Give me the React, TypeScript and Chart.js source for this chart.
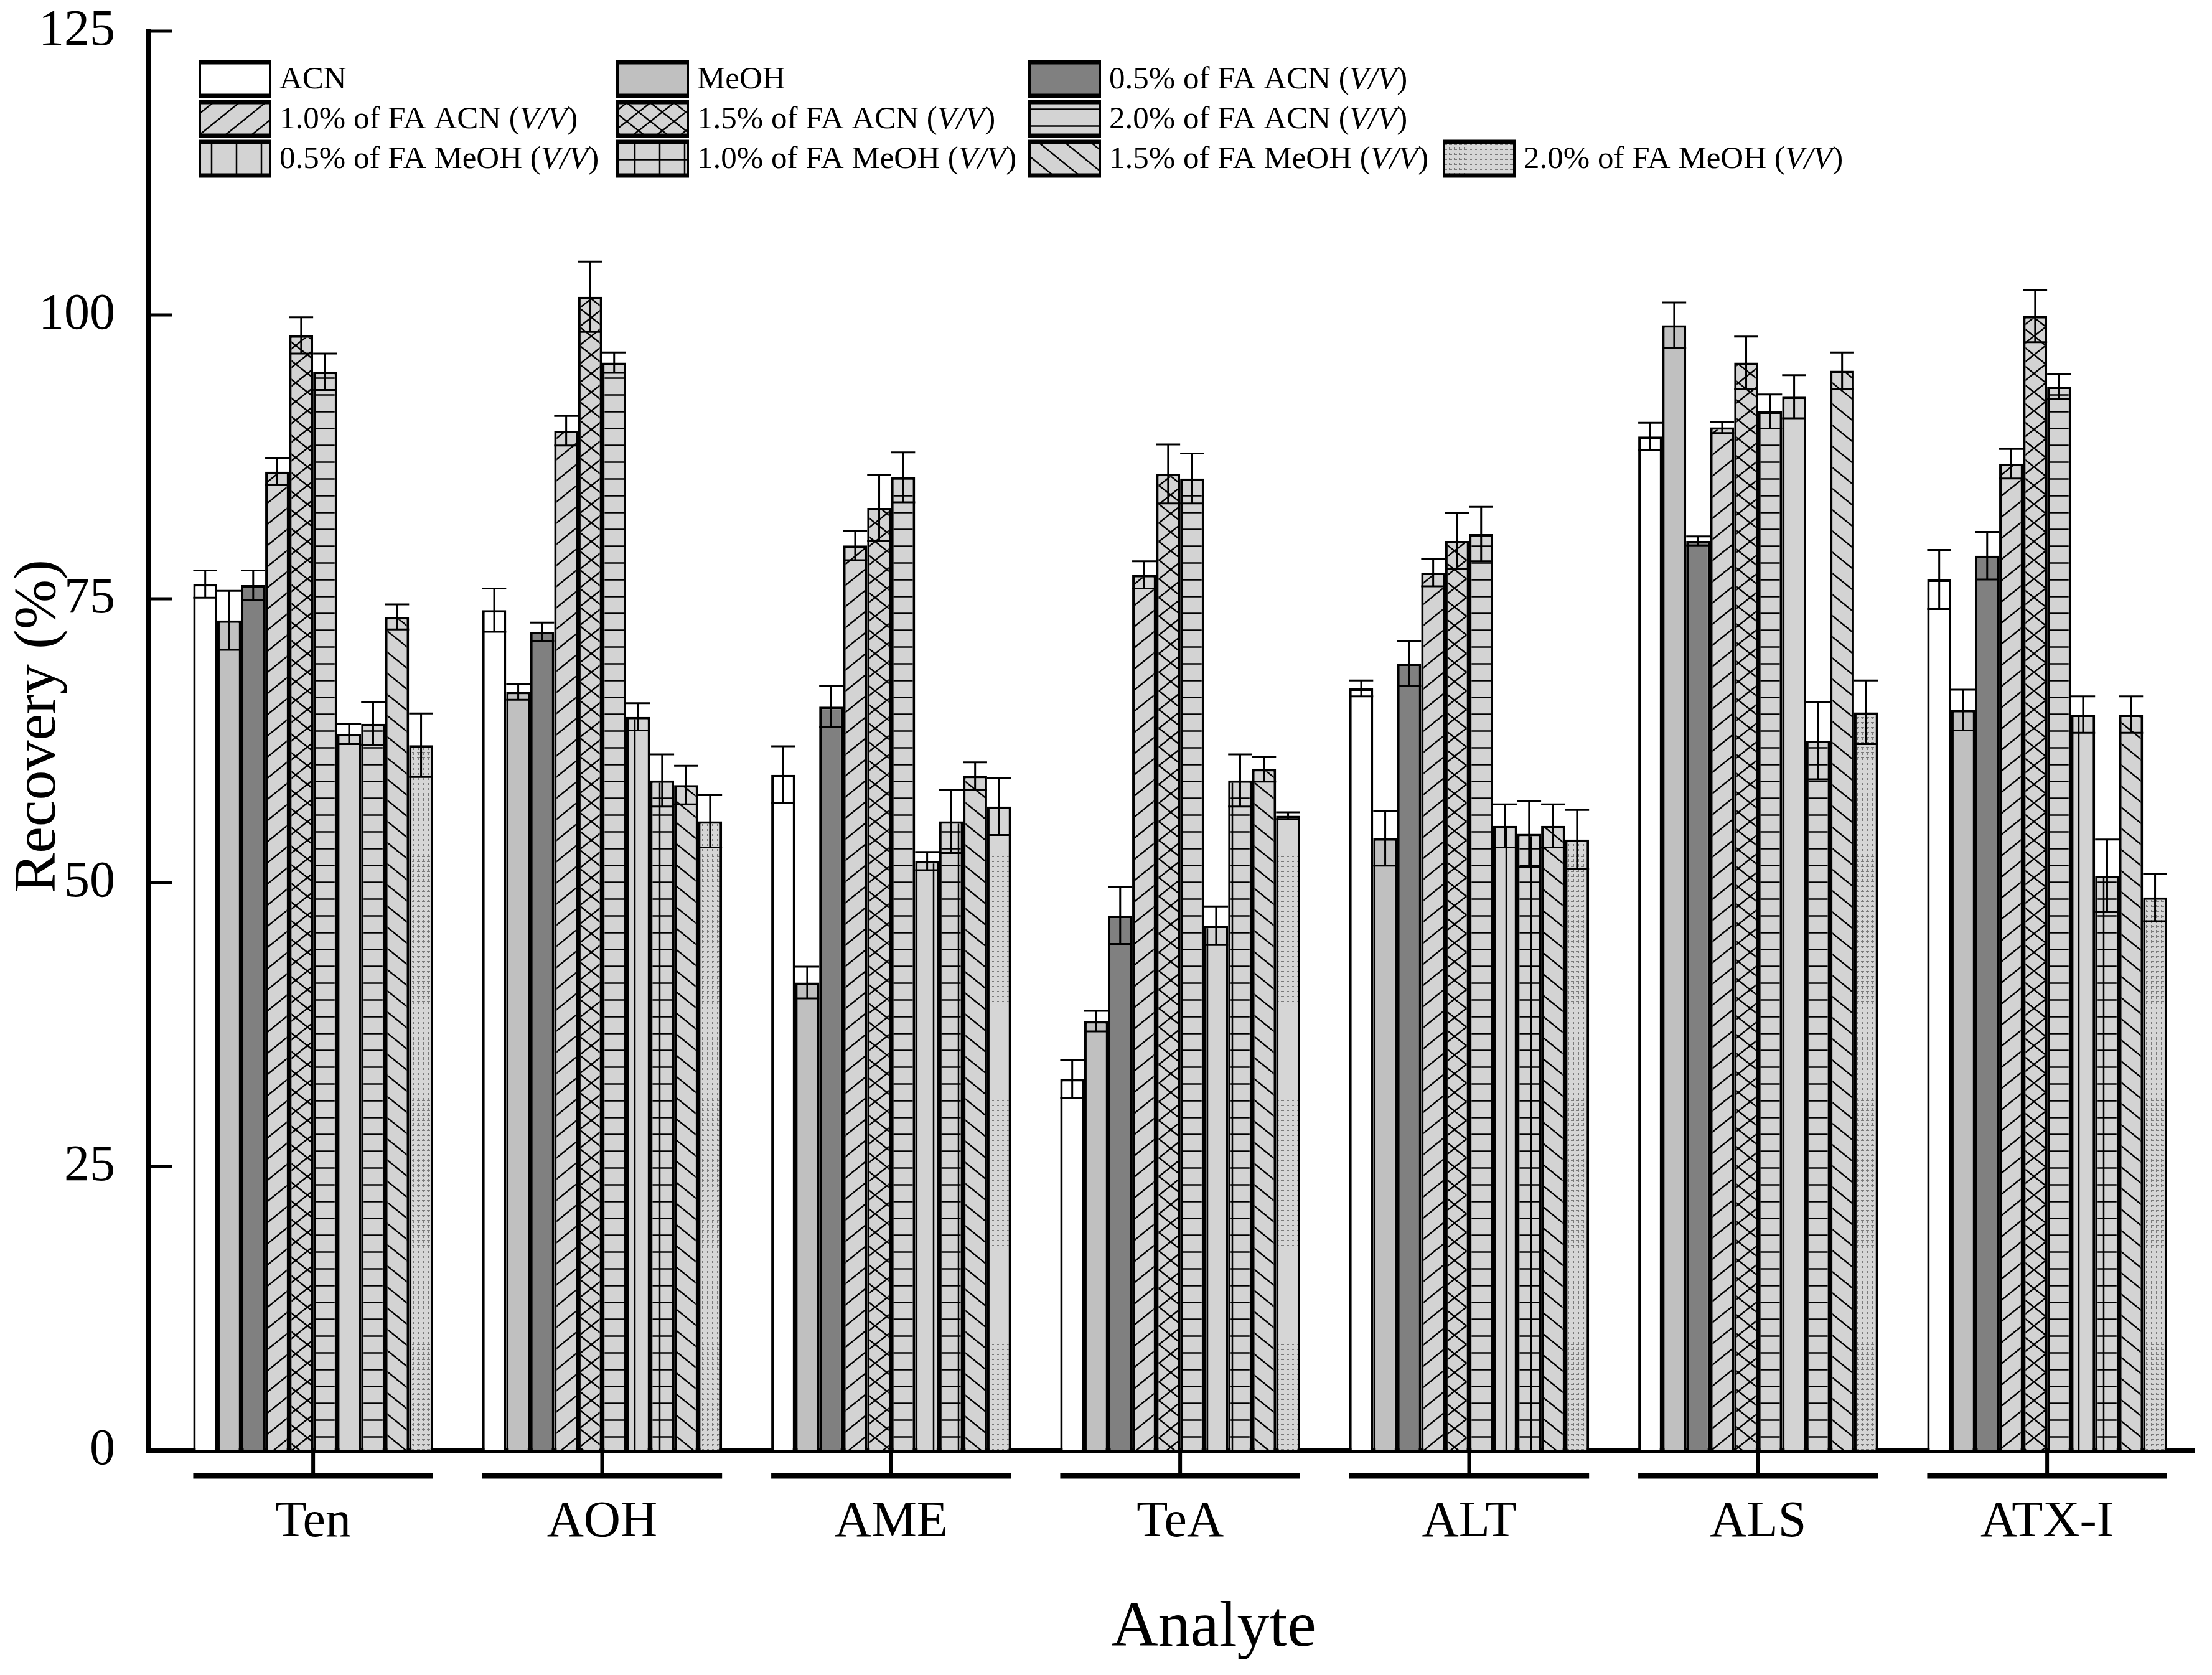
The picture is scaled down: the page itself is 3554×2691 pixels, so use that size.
import React, { useEffect, useRef } from 'react';
import { Chart, registerables } from 'chart.js';

Chart.register(...registerables);

const CATEGORIES = ['Ten', 'AOH', 'AME', 'TeA', 'ALT', 'ALS', 'ATX-I'];
const SERIES_NAMES = [
  'ACN', 'MeOH', '0.5% of FA ACN', '1.0% of FA ACN', '1.5% of FA ACN', '2.0% of FA ACN',
  '0.5% of FA MeOH', '1.0% of FA MeOH', '1.5% of FA MeOH', '2.0% of FA MeOH',
];
const HAS_VV = [false, false, true, true, true, true, true, true, true, true];
const Y_TICKS = [0, 25, 50, 75, 100, 125];

const ACN = [76.3, 74.0, 59.5, 32.7, 67.1, 89.3, 76.7];
const ACN_ERR = [1.2, 1.9, 2.5, 1.7, 0.7, 1.2, 2.6];
const MEOH = [73.1, 66.8, 41.2, 37.8, 53.9, 99.1, 65.2];
const MEOH_ERR = [2.6, 0.7, 1.4, 0.9, 2.4, 2.0, 1.8];
const FA05_ACN = [76.2, 72.1, 65.5, 47.1, 69.3, 80.1, 78.8];
const FA05_ACN_ERR = [1.3, 0.8, 1.8, 2.5, 2.0, 0.4, 2.1];
const FA10_ACN = [86.2, 89.8, 79.7, 77.1, 77.3, 90.1, 86.9];
const FA10_ACN_ERR = [1.2, 1.3, 1.3, 1.2, 1.2, 0.5, 1.3];
const FA15_ACN = [98.2, 101.6, 83.0, 86.0, 80.1, 95.8, 99.9];
const FA15_ACN_ERR = [1.6, 3.1, 2.9, 2.6, 2.5, 2.3, 2.3];
const FA20_ACN = [95.0, 95.8, 85.7, 85.6, 80.7, 91.5, 93.7];
const FA20_ACN_ERR = [1.6, 0.9, 2.2, 2.2, 2.4, 1.5, 1.1];
const FA05_MEOH = [63.1, 64.6, 51.9, 46.2, 55.0, 92.8, 64.8];
const FA05_MEOH_ERR = [0.9, 1.2, 0.8, 1.7, 1.9, 1.9, 1.6];
const FA10_MEOH = [64.0, 59.0, 55.4, 59.0, 54.3, 62.5, 50.6];
const FA10_MEOH_ERR = [1.9, 2.3, 2.8, 2.3, 2.9, 3.4, 3.2];
const FA15_MEOH = [73.4, 58.6, 59.4, 60.0, 55.0, 95.1, 64.8];
const FA15_MEOH_ERR = [1.1, 1.7, 1.2, 1.1, 1.9, 1.6, 1.6];
const FA20_MEOH = [62.1, 55.4, 56.7, 55.9, 53.8, 65.0, 48.7];
const FA20_MEOH_ERR = [2.8, 2.3, 2.5, 0.3, 2.6, 2.8, 2.1];

const VALUES = [ACN, MEOH, FA05_ACN, FA10_ACN, FA15_ACN, FA20_ACN, FA05_MEOH, FA10_MEOH, FA15_MEOH, FA20_MEOH];
const ERRORS = [ACN_ERR, MEOH_ERR, FA05_ACN_ERR, FA10_ACN_ERR, FA15_ACN_ERR, FA20_ACN_ERR, FA05_MEOH_ERR, FA10_MEOH_ERR, FA15_MEOH_ERR, FA20_MEOH_ERR];
const PATTERN_KINDS = ['white', 'gray', 'dark', 'diag', 'cross', 'hlines', 'vlines', 'grid', 'backdiag', 'dots'];

const FONT = '"Liberation Serif", "Times New Roman", serif';
const HATCH_FILL = '#d3d3d3';

function makeFill(kind: string): any {
  if (kind === 'white') return '#ffffff';
  if (kind === 'gray') return '#c0c0c0';
  if (kind === 'dark') return '#808080';
  const tile = document.createElement('canvas');
  let w = 40, h = 40;
  if (kind === 'diag' || kind === 'backdiag') { w = 42; h = 34; }
  if (kind === 'cross') { w = 38; h = 30; }
  if (kind === 'hlines') { w = 10; h = 27; }
  if (kind === 'vlines') { w = 40; h = 10; }
  if (kind === 'grid') { w = 40; h = 27; }
  if (kind === 'dots') { w = 8; h = 8; }
  tile.width = w; tile.height = h;
  const c = tile.getContext('2d') as CanvasRenderingContext2D;
  c.fillStyle = kind === 'dots' ? '#d6d6d6' : HATCH_FILL;
  c.fillRect(0, 0, w, h);
  c.strokeStyle = '#000';
  c.lineWidth = 2.5;
  const line = (x1: number, y1: number, x2: number, y2: number) => {
    for (const dx of [-w, 0, w]) for (const dy of [-h, 0, h]) {
      c.beginPath(); c.moveTo(x1 + dx, y1 + dy); c.lineTo(x2 + dx, y2 + dy); c.stroke();
    }
  };
  if (kind === 'diag') line(0, h, w, 0);
  if (kind === 'backdiag') line(0, 0, w, h);
  if (kind === 'cross') { line(0, h, w, 0); line(0, 0, w, h); }
  if (kind === 'hlines') line(0, h / 2, w, h / 2);
  if (kind === 'vlines') line(w / 2, 0, w / 2, h);
  if (kind === 'grid') { line(0, h / 2, w, h / 2); line(w / 2, 0, w / 2, h); }
  if (kind === 'dots') {
    c.fillStyle = '#7a7a7a';
    for (let i = 0; i < w; i += 2) c.fillRect(i, 0, 1, 1);
    for (let j = 0; j < h; j += 2) c.fillRect(0, j, 1, 1);
  }
  return c.createPattern(tile, 'repeat');
}

const decorPlugin = {
  id: 'decor',
  afterDatasetsDraw(chart: any) {
    const ctx = chart.ctx;
    const y = chart.scales.y;
    ctx.save();
    ctx.strokeStyle = '#000';
    ctx.lineWidth = 3;
    chart.data.datasets.forEach((ds: any, d: number) => {
      const meta = chart.getDatasetMeta(d);
      meta.data.forEach((bar: any, i: number) => {
        const v = VALUES[d][i];
        const e = ERRORS[d][i];
        const top = y.getPixelForValue(v + e);
        const bot = y.getPixelForValue(v - e);
        const half = bar.width / 2;
        ctx.beginPath();
        ctx.moveTo(bar.x, top); ctx.lineTo(bar.x, bot);
        ctx.moveTo(bar.x - half, top); ctx.lineTo(bar.x + half, top);
        ctx.moveTo(bar.x - half, bot); ctx.lineTo(bar.x + half, bot);
        ctx.stroke();
      });
    });
    ctx.restore();
  },
  afterDraw(chart: any) {
    const ctx = chart.ctx;
    const { left, bottom } = chart.chartArea;
    const x = chart.scales.x;
    const y = chart.scales.y;
    ctx.save();
    ctx.strokeStyle = '#000';
    // inward y ticks
    ctx.lineWidth = 5;
    Y_TICKS.forEach((v) => {
      const py = y.getPixelForValue(v);
      ctx.beginPath(); ctx.moveTo(left, py); ctx.lineTo(left + 38, py); ctx.stroke();
    });
    // category ticks and group brackets
    const first = chart.getDatasetMeta(0);
    const last = chart.getDatasetMeta(VALUES.length - 1);
    const bracketY = bottom + 41;
    CATEGORIES.forEach((_, i) => {
      const cx = x.getPixelForValue(i);
      const b0 = first.data[i];
      const b1 = last.data[i];
      ctx.lineWidth = 6;
      ctx.beginPath(); ctx.moveTo(cx, bottom); ctx.lineTo(cx, bracketY); ctx.stroke();
      ctx.lineWidth = 9;
      ctx.beginPath(); ctx.moveTo(b0.x - b0.width / 2, bracketY); ctx.lineTo(b1.x + b1.width / 2, bracketY); ctx.stroke();
    });
    // axis titles
    ctx.fillStyle = '#000';
    ctx.font = `104px ${FONT}`;
    ctx.textAlign = 'center';
    ctx.textBaseline = 'alphabetic';
    ctx.fillText('Analyte', 1950, 2644);
    ctx.save();
    ctx.translate(88, 1167);
    ctx.rotate(-Math.PI / 2);
    ctx.font = `96px ${FONT}`;
    ctx.fillText('Recovery (%)', 0, 0);
    ctx.restore();
    // legend
    const colX = [321, 992, 1654, 2320];
    const rowY = [100, 164, 228];
    const bw = 113, bh = 54;
    SERIES_NAMES.forEach((name, k) => {
      const row = k < 3 ? 0 : k < 6 ? 1 : 2;
      const col = k < 6 ? k % 3 : k - 6;
      const bx = colX[col], by = rowY[row];
      ctx.fillStyle = chart.data.datasets[k].backgroundColor;
      ctx.fillRect(bx, by, bw, bh);
      ctx.lineWidth = 4;
      ctx.strokeRect(bx, by, bw, bh);
      ctx.lineWidth = 7;
      ctx.beginPath(); ctx.moveTo(bx - 2, by); ctx.lineTo(bx + bw + 2, by); ctx.stroke();
      ctx.beginPath(); ctx.moveTo(bx - 2, by + bh); ctx.lineTo(bx + bw + 2, by + bh); ctx.stroke();
      ctx.fillStyle = '#000';
      ctx.textAlign = 'left';
      ctx.textBaseline = 'middle';
      let tx = bx + bw + 15;
      const ty = by + bh / 2 + 2;
      ctx.font = `51px ${FONT}`;
      const base = HAS_VV[k] ? name + ' (' : name;
      ctx.fillText(base, tx, ty);
      tx += ctx.measureText(base).width;
      if (HAS_VV[k]) {
        ctx.font = `italic 51px ${FONT}`;
        ctx.fillText('V/V', tx, ty);
        tx += ctx.measureText('V/V').width;
        ctx.font = `51px ${FONT}`;
        ctx.fillText(')', tx, ty);
      }
    });
    ctx.restore();
  },
};

export default function App() {
  const ref = useRef<HTMLCanvasElement | null>(null);
  useEffect(() => {
    if (!ref.current) return;
    const datasets = VALUES.map((vals, d) => ({
      label: SERIES_NAMES[d],
      data: vals.map((v, i) => ({ x: i, y: v })),
      backgroundColor: makeFill(PATTERN_KINDS[d]),
      borderColor: '#000',
      borderWidth: 4,
      categoryPercentage: 0.83,
      barPercentage: 1,
    }));
    const chart = new Chart(ref.current, {
      type: 'bar',
      data: { datasets },
      plugins: [decorPlugin],
      options: {
        animation: false,
        responsive: true,
        maintainAspectRatio: false,
        layout: { padding: { top: 50, right: 29, left: 0, bottom: 0 } },
        plugins: { legend: { display: false }, tooltip: { enabled: false } },
        scales: {
          x: {
            type: 'linear',
            min: -0.571,
            max: 6.508,
            offset: false,
            afterBuildTicks: (s: any) => { s.ticks = CATEGORIES.map((_, i) => ({ value: i })); },
            afterFit: (s: any) => { s.height = 361; s.paddingLeft = 0; s.paddingRight = 0; },
            grid: { display: false },
            border: { display: true, width: 7, color: '#000' },
            ticks: {
              callback: (v: any) => CATEGORIES[v] ?? '',
              font: { family: FONT, size: 82, lineHeight: 1 },
              color: '#000',
              padding: 67,
              maxRotation: 0,
              autoSkip: false,
            },
          },
          y: {
            min: 0,
            max: 125,
            afterBuildTicks: (s: any) => { s.ticks = Y_TICKS.map((v) => ({ value: v })); },
            afterFit: (s: any) => { s.width = 238; s.paddingTop = 0; s.paddingBottom = 0; },
            grid: { display: false },
            border: { display: true, width: 7, color: '#000' },
            ticks: { font: { family: FONT, size: 82 }, color: '#000', padding: 45 },
          },
        },
      } as any,
    });
    return () => chart.destroy();
  }, []);
  return (
    <div style={{ position: 'fixed', left: 0, top: 0, width: 3554, height: 2691, background: '#fff' }}>
      <canvas ref={ref} />
    </div>
  );
}
